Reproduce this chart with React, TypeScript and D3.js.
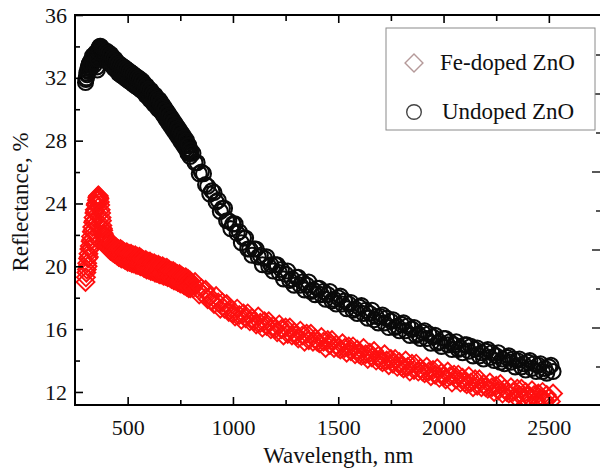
import React, { useEffect, useRef } from 'react';
import * as d3 from 'd3';

const wavelengths: number[] = [
  300, 302, 304, 306, 308, 310, 312, 314, 316, 318,
  320, 322, 324, 326, 328, 330, 332, 334, 336, 338,
  340, 342, 344, 346, 348, 350, 352, 354, 356, 358,
  360, 362, 364, 366, 368, 370, 372, 374, 376, 378,
  380, 382, 384, 386, 388, 390, 392, 394, 396, 398,
  400, 402, 404, 406, 408, 410, 412, 414, 416, 418,
  420, 422, 424, 426, 428, 430, 432, 434, 436, 438,
  440, 442, 444, 446, 448, 450, 452, 454, 456, 458,
  460, 462, 464, 466, 468, 470, 472, 474, 476, 478,
  480, 482, 484, 486, 488, 490, 492, 494, 496, 498,
  500, 502, 504, 506, 508, 510, 512, 514, 516, 518,
  520, 522, 524, 526, 528, 530, 532, 534, 536, 538,
  540, 542, 544, 546, 548, 550, 552, 554, 556, 558,
  560, 562, 564, 566, 568, 570, 572, 574, 576, 578,
  580, 582, 584, 586, 588, 590, 592, 594, 596, 598,
  600, 602, 604, 606, 608, 610, 612, 614, 616, 618,
  620, 622, 624, 626, 628, 630, 632, 634, 636, 638,
  640, 642, 644, 646, 648, 650, 652, 654, 656, 658,
  660, 662, 664, 666, 668, 670, 672, 674, 676, 678,
  680, 682, 684, 686, 688, 690, 692, 694, 696, 698,
  700, 702, 704, 706, 708, 710, 712, 714, 716, 718,
  720, 722, 724, 726, 728, 730, 732, 734, 736, 738,
  740, 742, 744, 746, 748, 750, 752, 754, 756, 758,
  760, 762, 764, 766, 768, 770, 772, 774, 776, 778,
  780, 782, 784, 786, 788, 790, 792, 794, 796, 798,
  800,
  810, 820, 830, 840, 850, 860, 870, 880, 890, 900,
  910, 920, 930, 940, 950, 960, 970, 980, 990, 1000,
  1010, 1020, 1030, 1040, 1050, 1060, 1070, 1080, 1090, 1100,
  1110, 1120, 1130, 1140, 1150, 1160, 1170, 1180, 1190, 1200,
  1210, 1220, 1230, 1240, 1250, 1260, 1270, 1280, 1290, 1300,
  1310, 1320, 1330, 1340, 1350, 1360, 1370, 1380, 1390, 1400,
  1410, 1420, 1430, 1440, 1450, 1460, 1470, 1480, 1490, 1500,
  1510, 1520, 1530, 1540, 1550, 1560, 1570, 1580, 1590, 1600,
  1610, 1620, 1630, 1640, 1650, 1660, 1670, 1680, 1690, 1700,
  1710, 1720, 1730, 1740, 1750, 1760, 1770, 1780, 1790, 1800,
  1810, 1820, 1830, 1840, 1850, 1860, 1870, 1880, 1890, 1900,
  1910, 1920, 1930, 1940, 1950, 1960, 1970, 1980, 1990, 2000,
  2010, 2020, 2030, 2040, 2050, 2060, 2070, 2080, 2090, 2100,
  2110, 2120, 2130, 2140, 2150, 2160, 2170, 2180, 2190, 2200,
  2210, 2220, 2230, 2240, 2250, 2260, 2270, 2280, 2290, 2300,
  2310, 2320, 2330, 2340, 2350, 2360, 2370, 2380, 2390, 2400,
  2410, 2420, 2430, 2440, 2450, 2460, 2470, 2480, 2490, 2500,
  2510, 2520,
];

const undopedZnO: number[] = [
  31.7, 31.9, 32.0, 32.3, 32.2, 32.5, 32.4, 32.7, 32.6, 32.9,
  32.8, 33.0, 32.6, 32.8, 33.1, 33.2, 33.0, 33.4, 33.2, 33.0,
  32.8, 33.3, 33.5, 33.4, 33.6, 33.5, 33.2, 32.7, 32.5, 33.2,
  33.7, 33.8, 33.9, 33.8, 34.0, 33.9, 34.0, 33.9, 33.8, 33.9,
  33.7, 33.8, 33.6, 33.7, 33.5, 33.6, 33.4, 33.5, 33.3, 33.4,
  33.7, 33.2, 33.5, 33.0, 33.5, 33.6, 33.1, 33.3, 32.9, 33.4,
  33.5, 32.9, 33.2, 32.8, 33.2, 33.3, 32.8, 33.0, 32.6, 33.1,
  33.2, 32.6, 32.9, 32.5, 32.9, 33.0, 32.5, 32.8, 32.3, 32.8,
  32.9, 32.4, 32.6, 32.2, 32.7, 32.8, 32.2, 32.5, 32.1, 32.6,
  32.7, 32.1, 32.4, 32.0, 32.5, 32.6, 32.0, 32.3, 31.9, 32.4,
  32.5, 31.9, 32.2, 31.8, 32.3, 32.4, 31.8, 32.1, 31.7, 32.2,
  32.3, 31.7, 32.0, 31.6, 32.1, 32.2, 31.6, 31.9, 31.5, 32.0,
  32.1, 31.5, 31.8, 31.4, 31.9, 32.0, 31.4, 31.7, 31.3, 31.8,
  31.9, 31.3, 31.6, 31.2, 31.7, 31.8, 31.2, 31.5, 31.1, 31.5,
  31.6, 31.1, 31.3, 30.9, 31.4, 31.5, 30.9, 31.2, 30.8, 31.2,
  31.3, 30.8, 31.0, 30.6, 31.1, 31.2, 30.6, 30.9, 30.5, 30.9,
  31.0, 30.5, 30.7, 30.3, 30.8, 30.9, 30.3, 30.6, 30.2, 30.6,
  30.7, 30.2, 30.4, 30.0, 30.5, 30.6, 30.0, 30.3, 29.9, 30.3,
  30.4, 29.9, 30.1, 29.7, 30.1, 30.2, 29.7, 29.9, 29.5, 29.9,
  30.0, 29.5, 29.7, 29.3, 29.7, 29.8, 29.3, 29.5, 29.1, 29.5,
  29.6, 29.1, 29.3, 28.9, 29.3, 29.4, 28.9, 29.1, 28.7, 29.1,
  29.2, 28.7, 28.9, 28.5, 28.9, 29.0, 28.5, 28.7, 28.3, 28.7,
  28.8, 28.3, 28.5, 28.1, 28.5, 28.6, 28.1, 28.3, 27.9, 28.3,
  28.4, 27.9, 28.1, 27.7, 28.1, 28.2, 27.7, 27.9, 27.5, 27.9,
  28.0, 27.4, 27.7, 27.2, 27.7, 27.7, 27.2, 27.4, 27.0, 27.4,
  27.2,
  27.2, 26.6, 26.6, 25.9, 26.0, 25.9, 25.2, 25.1, 24.6, 24.8,
  24.7, 24.1, 24.2, 23.5, 23.7, 23.7, 22.9, 22.9, 22.4, 22.7,
  22.7, 22.1, 22.2, 21.5, 21.8, 21.8, 21.1, 21.1, 20.7, 21.1,
  21.1, 20.6, 20.7, 20.1, 20.5, 20.6, 20.0, 20.1, 19.7, 20.1,
  20.1, 19.6, 19.8, 19.2, 19.5, 19.7, 19.1, 19.2, 18.8, 19.3,
  19.3, 18.8, 19.0, 18.5, 18.8, 19.0, 18.4, 18.5, 18.2, 18.6,
  18.6, 18.2, 18.4, 17.9, 18.2, 18.4, 17.8, 17.9, 17.6, 18.0,
  18.1, 17.6, 17.8, 17.3, 17.6, 17.7, 17.2, 17.3, 17.0, 17.4,
  17.5, 17.0, 17.2, 16.7, 17.0, 17.2, 16.6, 16.8, 16.4, 16.8,
  16.9, 16.4, 16.7, 16.1, 16.5, 16.6, 16.1, 16.2, 15.9, 16.3,
  16.4, 15.9, 16.2, 15.6, 16.0, 16.1, 15.6, 15.7, 15.4, 15.8,
  15.9, 15.4, 15.7, 15.1, 15.5, 15.6, 15.1, 15.2, 14.9, 15.4,
  15.4, 15.0, 15.2, 14.7, 15.0, 15.2, 14.7, 14.8, 14.5, 15.0,
  15.0, 14.6, 14.9, 14.3, 14.7, 14.8, 14.3, 14.5, 14.1, 14.6,
  14.7, 14.2, 14.5, 14.0, 14.3, 14.5, 13.9, 14.1, 13.8, 14.2,
  14.3, 13.9, 14.1, 13.6, 14.0, 14.1, 13.6, 13.8, 13.4, 13.9,
  14.0, 13.5, 13.8, 13.3, 13.7, 13.8, 13.3, 13.5, 13.2, 13.6,
  13.7, 13.3,
];

const feDopedZnO: number[] = [
  19.0, 19.3, 19.6, 19.8, 20.2, 20.0, 20.5, 20.8, 20.6, 21.1,
  21.3, 21.1, 21.6, 21.9, 21.7, 22.2, 22.5, 22.3, 22.8, 23.1,
  22.9, 23.4, 23.6, 23.5, 23.9, 24.0, 23.9, 24.2, 24.4, 24.3,
  24.5, 24.5, 24.4, 24.3, 24.1, 23.9, 23.6, 23.4, 23.1, 22.9,
  22.6, 22.4, 22.3, 22.1, 22.0, 21.9, 21.8, 21.7, 21.6, 21.6,
  21.3, 21.7, 21.4, 21.7, 21.2, 21.1, 21.5, 21.2, 21.6, 21.0,
  21.0, 21.4, 21.1, 21.4, 20.9, 20.9, 21.3, 21.0, 21.3, 20.8,
  20.8, 21.2, 20.9, 21.2, 20.7, 20.7, 21.1, 20.8, 21.1, 20.6,
  20.6, 21.0, 20.7, 21.1, 20.6, 20.5, 20.9, 20.7, 21.0, 20.5,
  20.5, 20.9, 20.6, 20.9, 20.4, 20.4, 20.8, 20.5, 20.9, 20.4,
  20.3, 20.7, 20.5, 20.8, 20.3, 20.3, 20.7, 20.4, 20.8, 20.3,
  20.2, 20.6, 20.4, 20.7, 20.2, 20.2, 20.6, 20.3, 20.7, 20.2,
  20.1, 20.5, 20.3, 20.6, 20.1, 20.1, 20.5, 20.2, 20.6, 20.1,
  20.0, 20.4, 20.2, 20.5, 20.0, 20.0, 20.4, 20.1, 20.4, 19.9,
  19.9, 20.3, 20.0, 20.4, 19.9, 19.8, 20.2, 20.0, 20.3, 19.8,
  19.8, 20.2, 19.9, 20.3, 19.8, 19.7, 20.1, 19.9, 20.2, 19.7,
  19.7, 20.1, 19.8, 20.2, 19.7, 19.6, 20.0, 19.8, 20.1, 19.6,
  19.6, 20.0, 19.7, 20.1, 19.6, 19.5, 19.9, 19.7, 20.0, 19.5,
  19.5, 19.9, 19.6, 20.0, 19.5, 19.4, 19.8, 19.6, 19.9, 19.4,
  19.4, 19.8, 19.5, 19.9, 19.4, 19.3, 19.7, 19.5, 19.8, 19.3,
  19.3, 19.7, 19.4, 19.7, 19.2, 19.2, 19.6, 19.3, 19.7, 19.2,
  19.1, 19.5, 19.3, 19.6, 19.1, 19.1, 19.5, 19.2, 19.5, 19.0,
  19.0, 19.4, 19.1, 19.5, 19.0, 18.9, 19.3, 19.1, 19.4, 18.9,
  18.9, 19.3, 19.0, 19.3, 18.8, 18.8, 19.2, 18.9, 19.3, 18.8,
  18.7, 19.1, 18.9, 19.2, 18.7, 18.6, 19.0, 18.8, 19.1, 18.6,
  18.8,
  18.6, 19.0, 18.6, 18.2, 18.6, 18.2, 18.5, 17.9, 18.1, 17.8,
  17.6, 18.1, 17.7, 17.3, 17.7, 17.3, 17.6, 17.1, 17.3, 17.0,
  16.8, 17.3, 16.9, 16.6, 17.0, 16.7, 17.0, 16.5, 16.7, 16.5,
  16.3, 16.8, 16.4, 16.1, 16.5, 16.2, 16.5, 16.0, 16.2, 16.0,
  15.8, 16.3, 16.0, 15.6, 16.1, 15.7, 16.1, 15.6, 15.8, 15.6,
  15.4, 15.9, 15.6, 15.2, 15.7, 15.3, 15.7, 15.2, 15.4, 15.2,
  15.1, 15.5, 15.2, 14.8, 15.3, 15.0, 15.3, 14.8, 15.0, 14.8,
  14.7, 15.1, 14.8, 14.5, 14.9, 14.6, 14.9, 14.4, 14.7, 14.4,
  14.3, 14.8, 14.4, 14.1, 14.5, 14.2, 14.6, 14.0, 14.3, 14.0,
  13.9, 14.4, 14.0, 13.7, 14.1, 13.8, 14.1, 13.6, 13.9, 13.6,
  13.5, 14.0, 13.6, 13.3, 13.8, 13.4, 13.8, 13.3, 13.5, 13.3,
  13.2, 13.6, 13.3, 13.0, 13.4, 13.1, 13.5, 12.9, 13.2, 13.0,
  12.8, 13.3, 13.0, 12.6, 13.1, 12.8, 13.1, 12.6, 12.9, 12.6,
  12.5, 13.0, 12.6, 12.3, 12.8, 12.4, 12.8, 12.3, 12.5, 12.3,
  12.2, 12.6, 12.3, 12.0, 12.4, 12.1, 12.5, 11.9, 12.2, 12.0,
  11.9, 12.3, 12.0, 11.7, 12.2, 11.8, 12.2, 11.7, 12.0, 11.7,
  11.6, 12.1, 11.8, 11.5, 11.9, 11.6, 12.0, 11.5, 11.8, 11.6,
  11.4, 11.9,
];

const xMajorTicks = [500, 1000, 1500, 2000, 2500];
const xMinorTicks = [750, 1250, 1750, 2250];
const yMajorTicks = [12, 16, 20, 24, 28, 32, 36];
const yMinorTicks = [14, 18, 22, 26, 30, 34];
const rightTicks = [1, 2, 3, 4, 5, 6, 7, 8, 9];

const seriesNames = ['Fe-doped ZnO', 'Undoped ZnO'];
const xTitle = 'Wavelength, nm';
const yTitle = 'Reflectance, %';

const FONT = '"Liberation Serif", "Times New Roman", serif';

export default function App() {
  const ref = useRef<SVGSVGElement>(null);

  useEffect(() => {
    const svg = d3.select(ref.current);
    svg.selectAll('*').remove();

    const left = 75, right = 601.5, top = 15, bottom = 405;
    const x = d3.scaleLinear().domain([250, 2750]).range([left, right]);
    const y = d3.scaleLinear().domain([11.17, 36]).range([bottom, top]);
    const y2 = d3.scaleLinear().domain([0, 10]).range([406, 16]);

    svg.append('rect').attr('width', 600).attr('height', 472).attr('fill', '#fff');

    const defs = svg.append('defs');
    defs.append('clipPath').attr('id', 'plotclip')
      .append('rect').attr('x', left).attr('y', top).attr('width', right - left).attr('height', bottom - top);

    const plot = svg.append('g').attr('clip-path', 'url(#plotclip)');

    // Fe-doped: red open diamonds
    const diamond = d3.symbol().type(d3.symbolSquare).size(160);
    plot.append('g').selectAll('path')
      .data(wavelengths.map((w, i) => [w, feDopedZnO[i]]))
      .join('path')
      .attr('d', diamond as any)
      .attr('transform', d => `translate(${x(d[0])},${y(d[1])}) rotate(45)`)
      .attr('fill', 'none')
      .attr('stroke', '#ff1010')
      .attr('stroke-width', 1.9);

    // Undoped: black open circles
    plot.append('g').selectAll('circle')
      .data(wavelengths.map((w, i) => [w, undopedZnO[i]]))
      .join('circle')
      .attr('cx', d => x(d[0]))
      .attr('cy', d => y(d[1]))
      .attr('r', 7.5)
      .attr('fill', 'none')
      .attr('stroke', '#0a0a0a')
      .attr('stroke-width', 2.1);

    const styleAxis = (g: any) => {
      g.select('.domain').remove();
      g.selectAll('line').attr('stroke', '#000').attr('stroke-width', 1.6);
      g.selectAll('text').attr('font-family', FONT).attr('font-size', 22).attr('fill', '#111');
    };

    // bottom axis
    svg.append('g').attr('transform', `translate(0,${bottom})`)
      .call(d3.axisBottom(x).tickValues(xMajorTicks).tickSize(-8).tickSizeOuter(0).tickPadding(14).tickFormat(d3.format('d')) as any)
      .call(styleAxis);
    svg.append('g').attr('transform', `translate(0,${bottom})`)
      .call(d3.axisBottom(x).tickValues(xMinorTicks).tickSize(-5).tickSizeOuter(0).tickFormat(() => '') as any)
      .call(styleAxis);
    // top axis
    svg.append('g').attr('transform', `translate(0,${top})`)
      .call(d3.axisTop(x).tickValues(xMajorTicks).tickSize(-8).tickSizeOuter(0).tickFormat(() => '') as any)
      .call(styleAxis);
    svg.append('g').attr('transform', `translate(0,${top})`)
      .call(d3.axisTop(x).tickValues(xMinorTicks).tickSize(-6).tickSizeOuter(0).tickFormat(() => '') as any)
      .call(styleAxis);
    // left axis
    svg.append('g').attr('transform', `translate(${left},0)`)
      .call(d3.axisLeft(y).tickValues(yMajorTicks).tickSize(-8).tickSizeOuter(0).tickPadding(8).tickFormat(d3.format('d')) as any)
      .call(styleAxis);
    svg.append('g').attr('transform', `translate(${left},0)`)
      .call(d3.axisLeft(y).tickValues(yMinorTicks).tickSize(-5).tickSizeOuter(0).tickFormat(() => '') as any)
      .call(styleAxis);
    // right edge ticks (neighbouring axis)
    svg.append('g').selectAll('line')
      .data(rightTicks)
      .join('line')
      .attr('x1', 600)
      .attr('x2', d => (d % 2 === 0 ? 592 : 596))
      .attr('y1', d => y2(d))
      .attr('y2', d => y2(d))
      .attr('stroke', '#222')
      .attr('stroke-width', 1.5);

    // axis lines
    const axisLines = svg.append('g').attr('stroke', '#000').attr('stroke-width', 2).attr('fill', 'none');
    axisLines.append('line').attr('x1', left).attr('x2', left).attr('y1', top - 1).attr('y2', bottom + 1);
    axisLines.append('line').attr('x1', left).attr('x2', 600).attr('y1', bottom).attr('y2', bottom);
    axisLines.append('line').attr('x1', left).attr('x2', 600).attr('y1', top).attr('y2', top);

    // titles
    svg.append('text')
      .attr('x', (left + right) / 2).attr('y', 463)
      .attr('text-anchor', 'middle')
      .attr('font-family', FONT).attr('font-size', 23).attr('fill', '#111')
      .text(xTitle);
    svg.append('text')
      .attr('transform', `translate(28,202) rotate(-90)`)
      .attr('text-anchor', 'middle')
      .attr('font-family', FONT).attr('font-size', 23).attr('fill', '#111')
      .text(yTitle);

    // legend
    const lg = svg.append('g');
    lg.append('rect').attr('x', 386).attr('y', 28).attr('width', 209).attr('height', 102)
      .attr('fill', '#fff').attr('stroke', '#8a8a8a').attr('stroke-width', 1);
    lg.append('path').attr('d', d3.symbol().type(d3.symbolSquare).size(160)() as string)
      .attr('transform', 'translate(414,63) rotate(45)')
      .attr('fill', 'none').attr('stroke', '#b59a9a').attr('stroke-width', 1.4);
    lg.append('circle').attr('cx', 414).attr('cy', 112).attr('r', 7.3)
      .attr('fill', 'none').attr('stroke', '#444').attr('stroke-width', 1.4);
    lg.append('text').attr('x', 440).attr('y', 70)
      .attr('font-family', FONT).attr('font-size', 23).attr('fill', '#111').text(seriesNames[0]);
    lg.append('text').attr('x', 442).attr('y', 119)
      .attr('font-family', FONT).attr('font-size', 23).attr('fill', '#111').text(seriesNames[1]);
  }, []);

  return (
    <svg
      ref={ref}
      width={600}
      height={472}
      style={{ position: 'absolute', left: 0, top: 0, display: 'block' }}
    />
  );
}
